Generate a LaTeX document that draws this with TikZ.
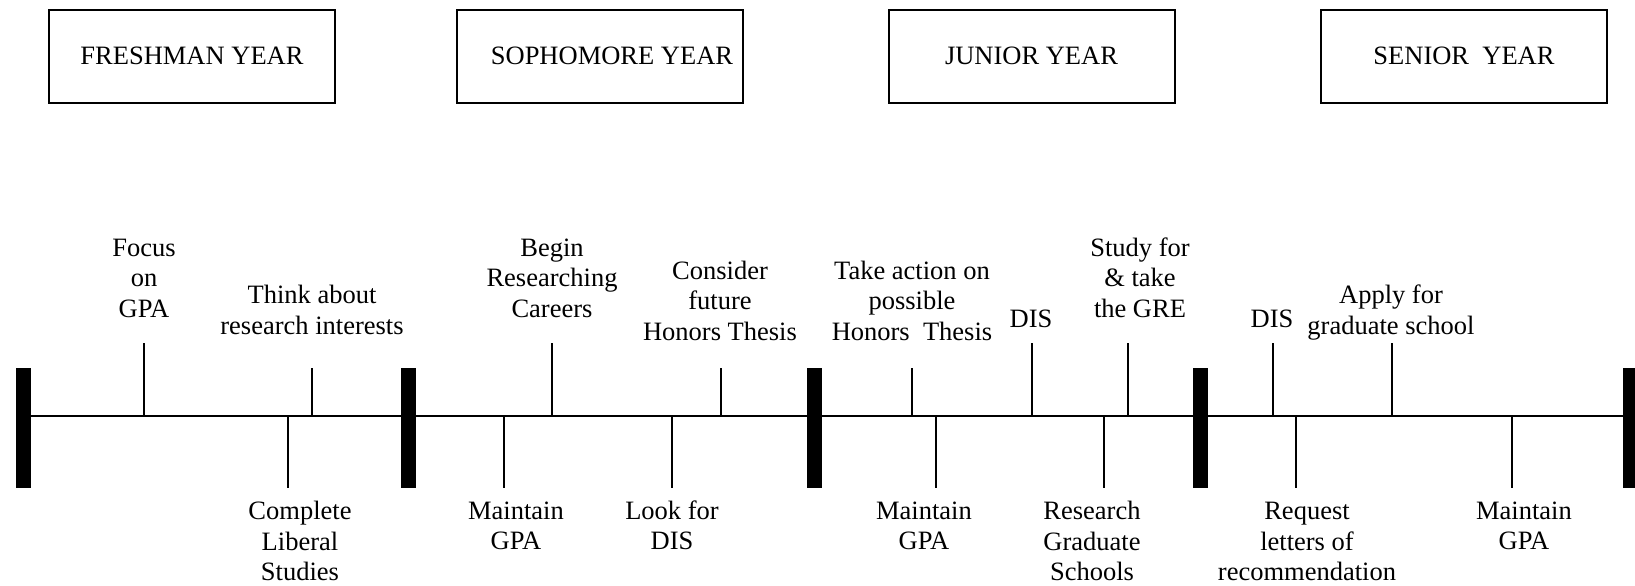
\documentclass[tikz,border=0pt]{standalone}
\usepackage{fontspec}
\setmainfont{Liberation Serif}
\usetikzlibrary{positioning}

\begin{document}
\begin{tikzpicture}[
  x=0.5pt, y=-0.5pt,
  every node/.style={font=\fontsize{13.25}{15.25}\selectfont},
  yearbox/.style={rectangle, draw, line width=1pt, minimum width=143pt, minimum height=46.5pt, inner sep=0pt},
  event/.style={align=center, inner sep=0pt, text depth=0pt, anchor=south},
  tick/.style={line width=0.75pt},
  axis/.style={line width=1pt}
]
  \useasboundingbox (0,0) rectangle (1635,585);

  % year headers
  \node[yearbox] (freshman) at (192,56) {FRESHMAN YEAR};
  \node[yearbox] (sophomore) at (600,56) {\hspace*{12pt}SOPHOMORE YEAR};
  \node[yearbox] (junior) at (1031.5,56) {JUNIOR YEAR};
  \node[yearbox] (senior) at (1464,56) {SENIOR\ \ YEAR};

  % year separators and the time line
  \foreach \x [count=\i] in {16,401,807,1193,1623} {
    \fill (\x,368) rectangle ++(15,120);
    \coordinate (bar\i) at (\x+7.5,416);
  }
  \draw[axis] (bar1) -- (bar5);

  % ticks
  \foreach \n/\x/\e in {focus/144/343, think/312/368, begin/552/343, consider/721/368,
      action/912/368, disjr/1032/343, gre/1128/343, dissr/1273/343, apply/1392/343,
      liberal/288/488, gpasoph/504/488, lookdis/672/488, gpajr/936/488,
      gradschools/1104/488, letters/1296/488, gpasr/1512/488} {
    \coordinate (\n-on) at (\x,416);
    \coordinate (\n-end) at (\x,\e);
    \draw[tick] (\n-on) -- (\n-end);
  }

  % events above the line
  \node[event] (focus) at (144,317.5) {Focus\\on\\GPA};
  \node[event] (think) at (312,334.5) {Think about\\research interests};
  \node[event] (begin) at (552,317.5) {Begin\\Researching\\Careers};
  \node[event] (consider) at (720,340.5) {Consider\\future\\Honors Thesis};
  \node[event] (action) at (912,340.5) {Take action on\\possible\\Honors\ \ Thesis};
  \node[event] (disjr) at (1031,327.5) {DIS};
  \node[event] (gre) at (1140,317.5) {Study for\\\& take\\the GRE};
  \node[event] (dissr) at (1272,327.5) {DIS};
  \node[event] (apply) at (1391,334.5) {Apply for\\graduate school};

  % events below the line
  \node[event] (liberal) at (300,581) {Complete\\Liberal\\Studies};
  \node[event] (gpasoph) at (516,550) {Maintain\\GPA};
  \node[event] (lookdis) at (672,550) {Look for\\DIS};
  \node[event] (gpajr) at (924,550) {Maintain\\GPA};
  \node[event] (gradschools) at (1092,581) {Research\\Graduate\\Schools};
  \node[event] (letters) at (1307,581) {Request\\letters of\\recommendation};
  \node[event] (gpasr) at (1524,550) {Maintain\\GPA};
\end{tikzpicture}
\end{document}
